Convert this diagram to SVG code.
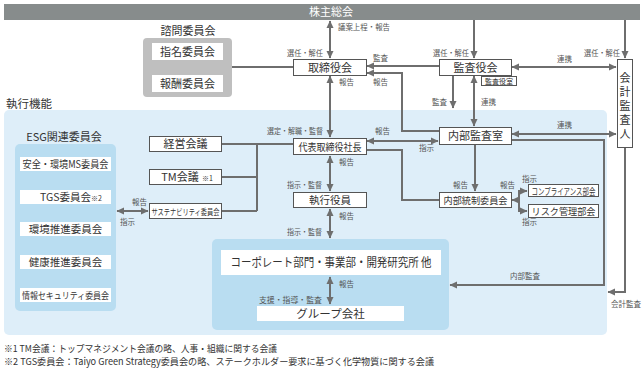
<svg xmlns="http://www.w3.org/2000/svg" width="644" height="371" viewBox="0 0 644 371">
<style>
text{font-family:"Noto Sans CJK JP","Noto Sans",sans-serif;fill:#333}
.n{fill:#fff;stroke:#555;stroke-width:1}
.w{fill:#fff}
.t{font-size:11px;text-anchor:middle}
.lb{font-size:7.5px;fill:#555}
.c{fill:none;stroke:#6e6e6e;stroke-width:2}
.a{marker-end:url(#ah)}
.d{marker-start:url(#ah);marker-end:url(#ah)}
.fn{font-size:9.5px;fill:#333}
</style>
<defs>
<marker id="ah" markerUnits="userSpaceOnUse" markerWidth="8" markerHeight="8" refX="7" refY="4" orient="auto-start-reverse"><path d="M0,0.5 L7.5,4 L0,7.5 z" fill="#6e6e6e"/></marker>
</defs>

<!-- backgrounds -->
<rect x="4" y="110" width="603" height="225" rx="5" fill="#deeef9"/>
<text x="6" y="108" font-size="11.5px">執行機能</text>

<g id="shareholders">
<rect x="4" y="4" width="636" height="16" fill="#878c8c"/>
<text x="331" y="16" class="t" style="fill:#fff">株主総会</text>
</g>

<g id="advisory">
<text x="188" y="35" class="t">諮問委員会</text>
<rect x="143" y="38" width="89" height="59" rx="4" fill="#bfbfbf"/>
<rect x="152" y="43" width="71" height="17" class="w"/>
<text x="187.5" y="55.5" class="t">指名委員会</text>
<rect x="152" y="75" width="71" height="17" class="w"/>
<text x="187.5" y="87.5" class="t">報酬委員会</text>
</g>

<g id="esg">
<text x="64" y="141" class="t">ESG関連委員会</text>
<rect x="15" y="144" width="101" height="167" rx="5" fill="#b9ddf1"/>
<rect x="20" y="157" width="91" height="14" class="w"/>
<text x="65.5" y="168" class="t" style="font-size:10px" textLength="86" lengthAdjust="spacingAndGlyphs">安全・環境MS委員会</text>
<rect x="20" y="190" width="91" height="14" class="w"/>
<text x="40" y="201" style="font-size:10.5px">TGS委員会</text>
<text x="91" y="201" style="font-size:7px">※2</text>
<rect x="20" y="222" width="91" height="14" class="w"/>
<text x="65.5" y="233" class="t" style="font-size:10.5px">環境推進委員会</text>
<rect x="20" y="255" width="91" height="14" class="w"/>
<text x="65.5" y="266" class="t" style="font-size:10.5px">健康推進委員会</text>
<rect x="20" y="288" width="91" height="14" class="w"/>
<text x="65.5" y="299" class="t" style="font-size:9px" textLength="87" lengthAdjust="spacingAndGlyphs">情報セキュリティ委員会</text>
</g>

<g id="group-blue">
<rect x="212" y="239" width="237" height="91" rx="5" fill="#b9ddf1"/>
</g>

<g id="connectors">
<path class="c d" d="M330,21 V58"/>
<path class="c" d="M232,67 H293"/>
<path class="c a" d="M439,66 H367"/>
<path class="c a" d="M439,131 H402 V73 H367"/>
<path class="c d" d="M330,76 V137"/>
<path class="c a" d="M474,20 V58"/>
<path class="c d" d="M512,67 H616"/>
<path class="c a" d="M625,20 V58"/>
<path class="c a" d="M453,75 V108"/>
<path class="c d" d="M474,76 V126"/>
<path class="c d" d="M512,134 H616"/>
<path class="c a" d="M511,140 H604 V285 H450"/>
<path class="c a" d="M625,148 V292 H608"/>
<path class="c" d="M366,150 H402 V200 H439"/>
<path class="c d" d="M367,141 H438"/>
<path class="c a" d="M475,145 V191"/>
<path class="c a" d="M520,200 H512"/>
<path class="c" d="M519,190 V212"/>
<path class="c a" d="M519,191 H527"/>
<path class="c a" d="M519,211 H527"/>
<path class="c" d="M221,144 H293"/>
<path class="c" d="M257,144 V211"/>
<path class="c" d="M221,177 H257"/>
<path class="c" d="M221,211 H257"/>
<path class="c d" d="M117,211 H148"/>
<path class="c d" d="M330,156 V191"/>
<path class="c d" d="M330,209 V238"/>
<path class="c d" d="M330,277 V304"/>
</g>

<g id="board">
<rect x="293.5" y="59.5" width="73" height="16" class="n"/>
<text x="330" y="71.5" class="t">取締役会</text>
</g>
<g id="audit-board">
<rect x="439.5" y="59.5" width="72" height="16" class="n"/>
<text x="475.5" y="71.5" class="t">監査役会</text>
<rect x="481.5" y="76.5" width="35" height="9" class="n"/>
<text x="499" y="84" class="t" style="font-size:7px">監査役室</text>
</g>
<g id="accounting-auditor">
<rect x="617.5" y="59.5" width="15" height="88" class="n"/>
<text x="625" y="72" style="font-size:11px;writing-mode:vertical-rl;letter-spacing:3px">会計監査人</text>
</g>
<g id="internal-audit">
<rect x="439.5" y="127.5" width="72" height="17" class="n"/>
<text x="475.5" y="140" class="t">内部監査室</text>
</g>
<g id="president">
<rect x="293.5" y="138.5" width="73" height="16" class="n"/>
<text x="330" y="150.5" class="t" style="font-size:10px" textLength="63" lengthAdjust="spacingAndGlyphs">代表取締役社長</text>
</g>
<g id="officers">
<rect x="293.5" y="192.5" width="73" height="15" class="n"/>
<text x="330" y="204" class="t" style="font-size:10.5px">執行役員</text>
</g>
<g id="internal-control">
<rect x="439.5" y="192.5" width="72" height="15" class="n"/>
<text x="475.5" y="204" class="t" style="font-size:9.5px" textLength="64" lengthAdjust="spacingAndGlyphs">内部統制委員会</text>
</g>
<g id="compliance">
<rect x="528.5" y="184.5" width="70" height="12" class="n"/>
<text x="563.5" y="194.5" class="t" style="font-size:9px" textLength="64" lengthAdjust="spacingAndGlyphs">コンプライアンス部会</text>
</g>
<g id="risk">
<rect x="528.5" y="204.5" width="70" height="13" class="n"/>
<text x="563.5" y="215" class="t" style="font-size:9.5px" textLength="64" lengthAdjust="spacingAndGlyphs">リスク管理部会</text>
</g>
<g id="management-meeting">
<rect x="149.5" y="136.5" width="72" height="15" class="n"/>
<text x="185.5" y="148" class="t">経営会議</text>
</g>
<g id="tm-meeting">
<rect x="149.5" y="169.5" width="72" height="15" class="n"/>
<text x="180" y="181" class="t">TM会議</text>
<text x="202" y="181" style="font-size:7px">※1</text>
</g>
<g id="sustainability">
<rect x="149.5" y="203.5" width="72" height="15" class="n"/>
<text x="185.5" y="214.5" class="t" style="font-size:8.5px" textLength="68" lengthAdjust="spacingAndGlyphs">サステナビリティ委員会</text>
</g>
<g id="divisions">
<rect x="221" y="250" width="220" height="25" class="w"/>
<text x="331" y="267" class="t" style="font-size:12px" textLength="201" lengthAdjust="spacingAndGlyphs">コーポレート部門・事業部・開発研究所 他</text>
</g>
<g id="group-companies">
<rect x="257" y="306" width="147" height="15" class="w"/>
<text x="330.5" y="318" class="t" style="font-size:11.5px">グループ会社</text>
</g>

<g id="labels">
<text x="338" y="30" class="lb" textLength="52" lengthAdjust="spacingAndGlyphs">議案上程・報告</text>
<text x="287" y="56" class="lb" textLength="36" lengthAdjust="spacingAndGlyphs">選任・解任</text>
<text x="373" y="61" class="lb">監査</text>
<text x="373" y="85" class="lb">報告</text>
<text x="339" y="85" class="lb">報告</text>
<text x="433" y="56" class="lb" textLength="36" lengthAdjust="spacingAndGlyphs">選任・解任</text>
<text x="557" y="62" class="lb">連携</text>
<text x="584" y="56" class="lb" textLength="36" lengthAdjust="spacingAndGlyphs">選任・解任</text>
<text x="432" y="105" class="lb">監査</text>
<text x="481" y="105" class="lb">連携</text>
<text x="557" y="128" class="lb">連携</text>
<text x="267" y="134" class="lb" textLength="56" lengthAdjust="spacingAndGlyphs">選定・解職・監督</text>
<text x="375" y="134" class="lb">報告</text>
<text x="419" y="151" class="lb">指示</text>
<text x="339" y="165" class="lb">報告</text>
<text x="287" y="188" class="lb" textLength="35" lengthAdjust="spacingAndGlyphs">指示・監督</text>
<text x="339" y="219" class="lb">報告</text>
<text x="287" y="235" class="lb" textLength="35" lengthAdjust="spacingAndGlyphs">指示・監督</text>
<text x="339" y="287" class="lb">報告</text>
<text x="259" y="303" class="lb" textLength="63" lengthAdjust="spacingAndGlyphs">支援・指導・監査</text>
<text x="453" y="188" class="lb">報告</text>
<text x="500" y="188" class="lb">報告</text>
<text x="522" y="182" class="lb">指示</text>
<text x="522" y="225" class="lb">指示</text>
<text x="510" y="279" class="lb">内部監査</text>
<text x="611" y="307" class="lb">会計監査</text>
<text x="132" y="205" class="lb">報告</text>
<text x="120" y="225" class="lb">指示</text>
</g>

<g id="footnotes">
<text x="4" y="352" class="fn" textLength="273" lengthAdjust="spacingAndGlyphs">※1  TM会議：トップマネジメント会議の略、人事・組織に関する会議</text>
<text x="4" y="365" class="fn" textLength="430" lengthAdjust="spacingAndGlyphs">※2  TGS委員会：Taiyo Green Strategy委員会の略、ステークホルダー要求に基づく化学物質に関する会議</text>
</g>
</svg>
